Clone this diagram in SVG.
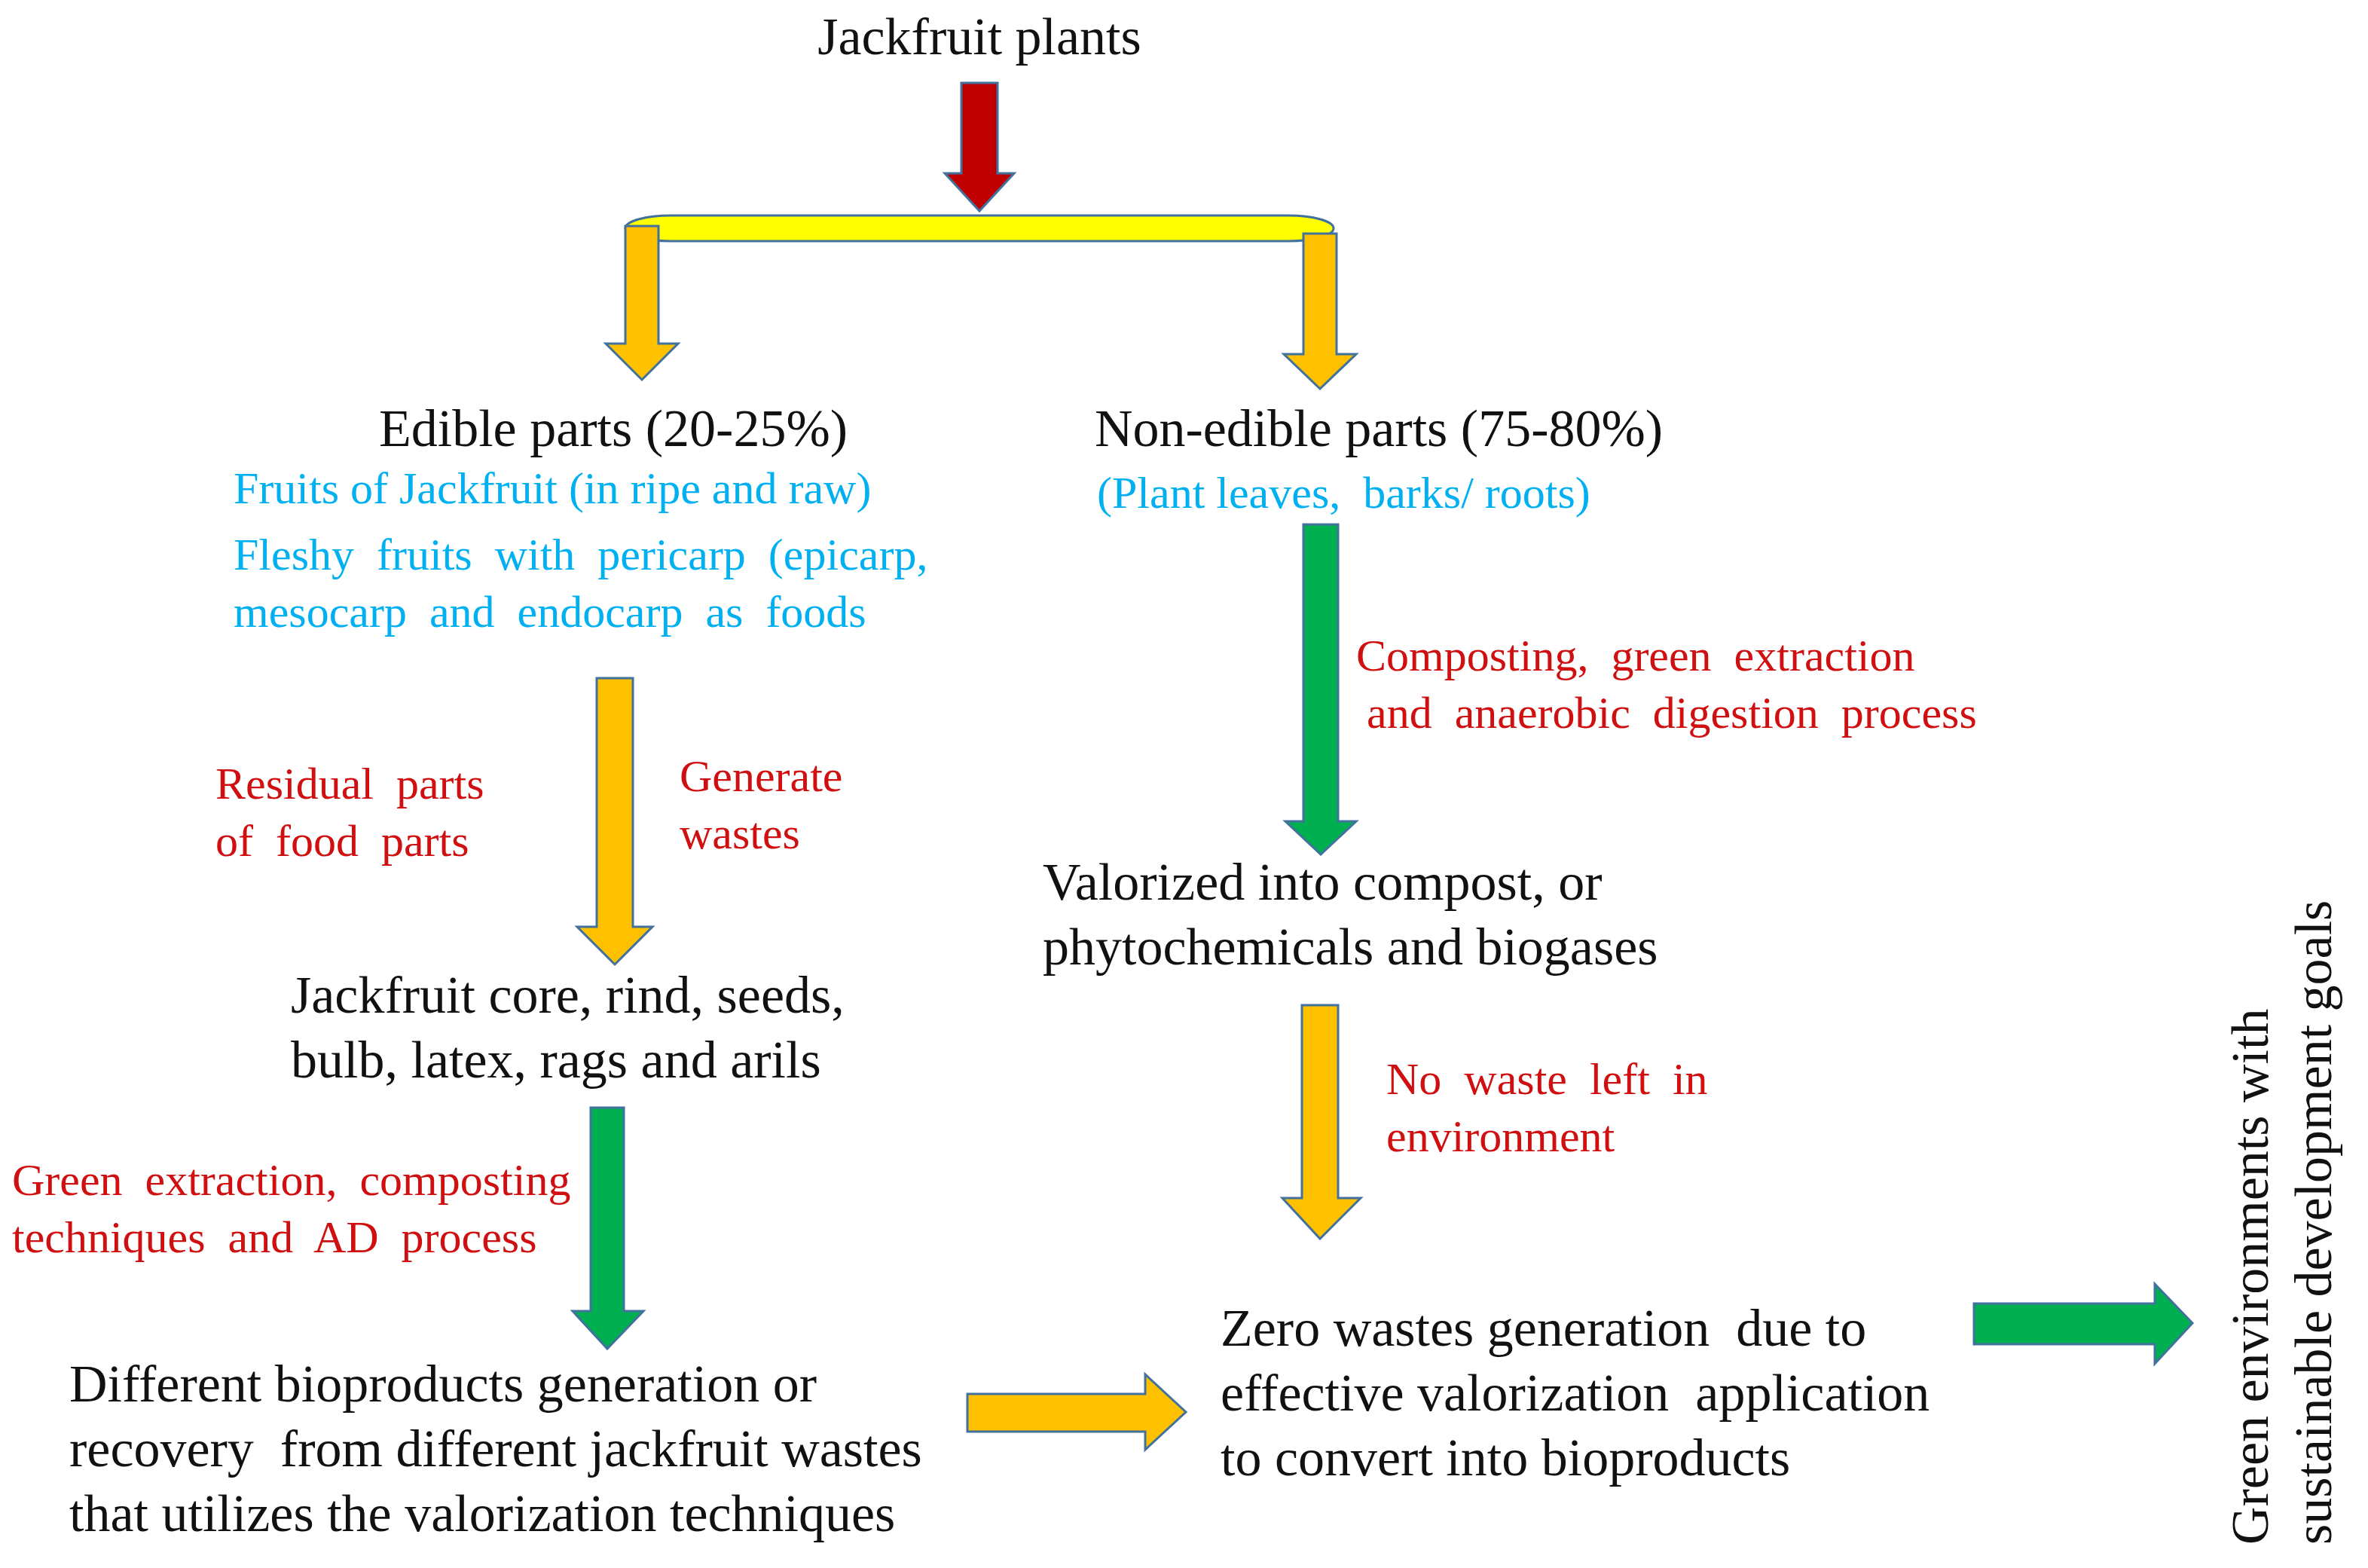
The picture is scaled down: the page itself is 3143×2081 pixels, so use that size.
<svg xmlns="http://www.w3.org/2000/svg" width="3143" height="2081" viewBox="0 0 3143 2081">
<style>
text{font-family:"Liberation Serif","Times New Roman",serif;white-space:pre}
.b{font-size:70px;fill:#111}
.bl{font-size:60px;fill:#00B0F0}
.r{font-size:60px;fill:#D01010}
.o{fill:#FFC000;stroke:#41719C;stroke-width:3}
.g{fill:#00B050;stroke:#41719C;stroke-width:3}
</style>
<rect width="3143" height="2081" fill="#fff"/>
<g id="connectors">
<polygon points="1276,110 1324,110 1324,230 1346,230 1300,280 1254,230 1276,230" fill="#C00000" stroke="#41719C" stroke-width="3"/>
<rect x="830" y="286" width="940" height="34" rx="60" ry="17" fill="#FFFF00" stroke="#41719C" stroke-width="3"/>
<polygon class="o" points="830,300 874,300 874,456 900,456 852,504 804,456 830,456"/>
<polygon class="o" points="1730,310 1774,310 1774,470 1800,470 1752,516 1704,470 1730,470"/>
<polygon class="g" points="1730,696 1776,696 1776,1090 1800,1090 1753,1134 1706,1090 1730,1090"/>
<polygon class="o" points="792,900 840,900 840,1230 866,1230 816,1280 766,1230 792,1230"/>
<polygon class="o" points="1728,1334 1776,1334 1776,1590 1806,1590 1752,1644 1702,1590 1728,1590"/>
<polygon class="g" points="784,1470 828,1470 828,1740 854,1740 806,1790 760,1740 784,1740"/>
<polygon class="o" points="1284,1850 1520,1850 1520,1824 1574,1874 1520,1924 1520,1900 1284,1900"/>
<polygon class="g" points="2620,1730 2860,1730 2860,1704 2910,1756 2860,1810 2860,1784 2620,1784"/>
</g>
<g id="top"><text class="b" x="1300" y="72" text-anchor="middle">Jackfruit plants</text></g>
<g id="edible">
<text class="b" x="814" y="592" text-anchor="middle">Edible parts (20-25%)</text>
<text class="bl" x="310" y="668">Fruits of Jackfruit (in ripe and raw)</text>
<text class="bl" x="310" y="756">Fleshy  fruits  with  pericarp  (epicarp,</text>
<text class="bl" x="310" y="832">mesocarp  and  endocarp  as  foods</text>
</g>
<g id="nonedible">
<text class="b" x="1830" y="592" text-anchor="middle">Non-edible parts (75-80%)</text>
<text class="bl" x="1456" y="674">(Plant leaves,  barks/ roots)</text>
</g>
<g id="lbl1"><text class="r" x="1800" y="890">Composting,  green  extraction</text>
<text class="r" x="1814" y="966">and  anaerobic  digestion  process</text></g>
<g id="lbl2"><text class="r" x="286" y="1060">Residual  parts</text><text class="r" x="286" y="1136">of  food  parts</text></g>
<g id="lbl3"><text class="r" x="902" y="1050">Generate</text><text class="r" x="902" y="1126">wastes</text></g>
<g id="valorized"><text class="b" x="1384" y="1194">Valorized into compost, or</text><text class="b" x="1384" y="1280">phytochemicals and biogases</text></g>
<g id="core"><text class="b" x="386" y="1344">Jackfruit core, rind, seeds,</text><text class="b" x="386" y="1430">bulb, latex, rags and arils</text></g>
<g id="lbl4"><text class="r" x="1840" y="1452">No  waste  left  in</text><text class="r" x="1840" y="1528">environment</text></g>
<g id="lbl5"><text class="r" x="16" y="1586">Green  extraction,  composting</text><text class="r" x="16" y="1662">techniques  and  AD  process</text></g>
<g id="bioproducts"><text class="b" x="92" y="1860">Different bioproducts generation or</text><text class="b" x="92" y="1946">recovery  from different jackfruit wastes</text><text class="b" x="92" y="2032">that utilizes the valorization techniques</text></g>
<g id="zero"><text class="b" x="1620" y="1786">Zero wastes generation  due to</text><text class="b" x="1620" y="1872">effective valorization  application</text><text class="b" x="1620" y="1958">to convert into bioproducts</text></g>
<g id="green"><text class="b" transform="translate(3010,2050) rotate(-90)">Green environments with</text><text class="b" transform="translate(3094,2050) rotate(-90)">sustainable development goals</text></g>
</svg>
